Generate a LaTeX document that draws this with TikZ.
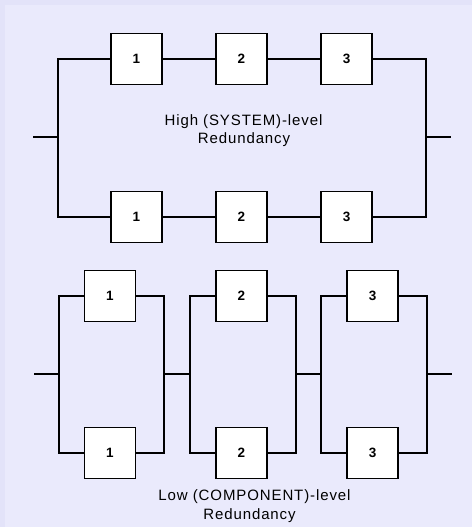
\documentclass[tikz,border=0pt]{standalone}
\usepackage{fontspec}
\setmainfont{Liberation Sans}
\newfontfamily\captionfont[LetterSpace=6]{Liberation Sans}
\definecolor{frameback}{RGB}{227,227,249}
\definecolor{paneback}{RGB}{234,234,252}
\begin{document}
\begin{tikzpicture}[x=1pt,y=-1pt,
  unit/.style={draw=black, fill=white, line width=1.6pt, minimum width=51pt,
    minimum height=51pt, inner sep=0pt, font=\fontsize{13.5}{13.5}\selectfont\bfseries},
  wire/.style={draw=black, line width=1.6pt},
  caption/.style={font=\fontsize{15}{18}\selectfont\captionfont, align=center, anchor=base}]
  % backdrop
  \fill[frameback] (0,0) rectangle (472,527);
  \fill[paneback] (5,5) rectangle (472,527);
  \useasboundingbox (0,0) rectangle (472,527);

  % ---- system-level redundancy: two parallel chains of 1-2-3 ----
  \node[unit] (a1) at (136.5,59) {1};
  \node[unit] (a2) at (241.5,59) {2};
  \node[unit] (a3) at (346.5,59) {3};
  \node[unit] (b1) at (136.5,217) {1};
  \node[unit] (b2) at (241.5,217) {2};
  \node[unit] (b3) at (346.5,217) {3};
  \coordinate (tin) at (33,137);
  \coordinate (tl) at (58,137);
  \coordinate (tr) at (426,137);
  \coordinate (tout) at (451,137);
  \draw[wire] (a1) -- (a2);
  \draw[wire] (a2) -- (a3);
  \draw[wire] (b1) -- (b2);
  \draw[wire] (b2) -- (b3);
  \draw[wire] (a1.west) -| (tl);
  \draw[wire] (b1.west) -| (tl);
  \draw[wire] (a3.east) -| (tr);
  \draw[wire] (b3.east) -| (tr);
  \draw[wire] (tin) -- (tl);
  \draw[wire] (tr) -- (tout);
  \node[caption] (hi1) at (243.5,125) {High (SYSTEM)-level};
  \node[caption] (hi2) at (244,143) {Redundancy};

  % ---- component-level redundancy: each unit duplicated in parallel ----
  \node[unit] (p1) at (110,296) {1};
  \node[unit] (q1) at (110,453) {1};
  \node[unit] (p2) at (241.5,296) {2};
  \node[unit] (q2) at (241.5,453) {2};
  \node[unit] (p3) at (372.5,296) {3};
  \node[unit] (q3) at (372.5,453) {3};
  \coordinate (bin) at (34,374);
  \coordinate (g1l) at (59,374);
  \coordinate (g1r) at (164,374);
  \coordinate (g2l) at (190,374);
  \coordinate (g2r) at (296,374);
  \coordinate (g3l) at (321,374);
  \coordinate (g3r) at (427,374);
  \coordinate (bout) at (452,374);
  \foreach \k in {1,2,3} {
    \draw[wire] (p\k.west) -| (g\k l);
    \draw[wire] (q\k.west) -| (g\k l);
    \draw[wire] (p\k.east) -| (g\k r);
    \draw[wire] (q\k.east) -| (g\k r);
  }
  \draw[wire] (bin) -- (g1l);
  \draw[wire] (g1r) -- (g2l);
  \draw[wire] (g2r) -- (g3l);
  \draw[wire] (g3r) -- (bout);
  \node[caption] (lo1) at (254.5,500) {Low (COMPONENT)-level};
  \node[caption] (lo2) at (249.5,519) {Redundancy};
\end{tikzpicture}
\end{document}
